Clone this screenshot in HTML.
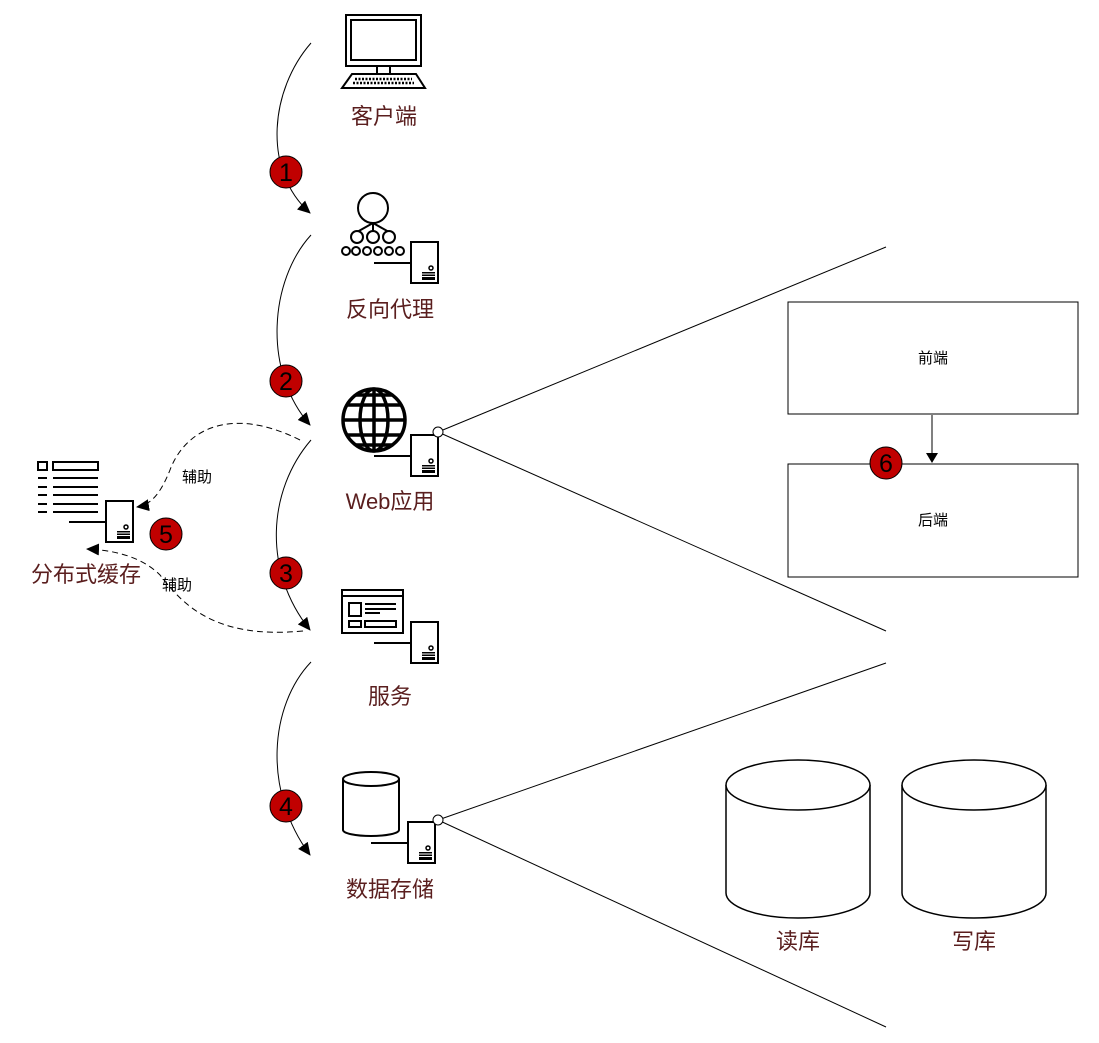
<!DOCTYPE html>
<html><head><meta charset="utf-8"><style>
body{margin:0;background:#fff;}
svg{display:block;}
.lb{font-family:"Liberation Sans","Noto Sans CJK SC",sans-serif;font-size:22px;fill:#5a1e1e;text-anchor:middle;}
.sm{font-family:"Liberation Sans","Noto Sans CJK SC",sans-serif;font-size:15px;fill:#000;text-anchor:middle;}
.bd{font-family:"Liberation Sans",sans-serif;font-size:25px;fill:#000;text-anchor:middle;}
</style></head><body>
<svg width="1099" height="1043" viewBox="0 0 1099 1043" xmlns="http://www.w3.org/2000/svg">
<defs>
<marker id="ar" markerWidth="14" markerHeight="14" refX="12" refY="6" orient="auto" markerUnits="userSpaceOnUse"><path d="M0,0 L13,6 L0,12 z" fill="#000"/></marker>
<g id="srv"><line x1="-37" y1="21" x2="0" y2="21" stroke="#000" stroke-width="2"/><rect x="0" y="0" width="27" height="41" fill="#fff" stroke="#000" stroke-width="2"/><circle cx="20" cy="26" r="2" fill="none" stroke="#000" stroke-width="1.5"/><rect x="11" y="30" width="13" height="8" fill="#000"/><line x1="11" y1="32" x2="24" y2="32" stroke="#fff"/><line x1="11" y1="34.5" x2="24" y2="34.5" stroke="#fff"/></g>
</defs>
<g fill="none" stroke="#000" stroke-width="1">
<path d="M311,43 C270,90 262,170 310,213" marker-end="url(#ar)"/>
<path d="M311,235 C270,280 262,370 310,425" marker-end="url(#ar)"/>
<path d="M311,440 C268,490 262,570 310,630" marker-end="url(#ar)"/>
<path d="M311,662 C270,705 262,790 310,855" marker-end="url(#ar)"/>
<path d="M300,440 C230,405 185,430 170,470 C160,495 150,505 137,507" stroke-dasharray="6,4" marker-end="url(#ar)"/>
<path d="M303,631 C210,640 180,600 160,575 C140,555 110,550 87,549" stroke-dasharray="6,4" marker-end="url(#ar)"/>
<line x1="438" y1="432" x2="886" y2="247"/><line x1="438" y1="432" x2="886" y2="631"/>
<line x1="438" y1="820" x2="886" y2="663"/><line x1="438" y1="820" x2="886" y2="1027"/>
<line x1="932" y1="415" x2="932" y2="454"/>
</g>
<path d="M926,453 L938,453 L932,463 z" fill="#000"/>
<g fill="none" stroke="#000" stroke-width="2">
<rect x="346" y="15" width="75" height="51"/><rect x="351" y="20" width="65" height="40"/>
<rect x="377" y="66" width="13" height="8"/>
<path d="M352,74 L416,74 L425,88 L342,88 z"/>
<line x1="355" y1="79" x2="412" y2="79" stroke-dasharray="2,1.5" stroke-width="2.5"/><line x1="353" y1="83" x2="414" y2="83" stroke-dasharray="2,1.5" stroke-width="2.5"/>
</g>
<text class="lb" x="384" y="124">客户端</text>
<g fill="#fff" stroke="#000" stroke-width="2">
<circle cx="373" cy="208" r="15"/>
<path d="M373,223 L373,232 M373,223 L357,232 M373,223 L389,232" fill="none"/>
<circle cx="357" cy="237" r="6"/><circle cx="373" cy="237" r="6"/><circle cx="389" cy="237" r="6"/>
<circle cx="346" cy="251" r="4"/><circle cx="356" cy="251" r="4"/><circle cx="367" cy="251" r="4"/><circle cx="378" cy="251" r="4"/><circle cx="389" cy="251" r="4"/><circle cx="400" cy="251" r="4"/>
</g>
<use href="#srv" x="411" y="242"/>
<text class="lb" x="390" y="317">反向代理</text>
<g fill="none" stroke="#000" stroke-width="3.5">
<circle cx="374" cy="420" r="31"/>
<ellipse cx="374" cy="420" rx="14" ry="31"/>
<line x1="374" y1="389" x2="374" y2="451"/>
<line x1="343" y1="420" x2="405" y2="420"/>
<line x1="347" y1="405" x2="401" y2="405"/><line x1="347" y1="435" x2="401" y2="435"/>
<line x1="356" y1="395" x2="392" y2="395"/><line x1="356" y1="445" x2="392" y2="445"/>
</g>
<use href="#srv" x="411" y="435"/>
<circle cx="438" cy="432" r="5" fill="#fff" stroke="#000"/>
<text class="lb" x="390" y="509">Web应用</text>
<g fill="none" stroke="#000" stroke-width="2">
<rect x="342" y="590" width="61" height="43"/><line x1="342" y1="596" x2="403" y2="596"/>
<rect x="349" y="603" width="12" height="13"/><line x1="365" y1="604" x2="396" y2="604"/><line x1="365" y1="609" x2="396" y2="609"/><line x1="365" y1="613" x2="380" y2="613"/>
<rect x="349" y="621" width="12" height="6"/><rect x="365" y="621" width="31" height="6"/>
</g>
<use href="#srv" x="411" y="622"/>
<text class="lb" x="390" y="704">服务</text>
<g fill="#fff" stroke="#000" stroke-width="2">
<path d="M343,779 L343,830 A28,6 0 0 0 399,830 L399,779"/>
<ellipse cx="371" cy="779" rx="28" ry="7"/>
</g>
<use href="#srv" x="408" y="822"/>
<circle cx="438" cy="820" r="5" fill="#fff" stroke="#000"/>
<text class="lb" x="390" y="897">数据存储</text>
<g fill="none" stroke="#000" stroke-width="2">
<rect x="38" y="462" width="9" height="8"/><rect x="53" y="462" width="45" height="8"/>
<line x1="38" y1="478" x2="47" y2="478"/><line x1="53" y1="478" x2="98" y2="478"/>
<line x1="38" y1="487" x2="47" y2="487"/><line x1="53" y1="487" x2="98" y2="487"/>
<line x1="38" y1="495" x2="47" y2="495"/><line x1="53" y1="495" x2="98" y2="495"/>
<line x1="38" y1="504" x2="47" y2="504"/><line x1="53" y1="504" x2="98" y2="504"/>
<line x1="38" y1="512" x2="47" y2="512"/><line x1="53" y1="512" x2="98" y2="512"/>
</g>
<use href="#srv" x="106" y="501"/>
<text class="lb" x="86" y="582">分布式缓存</text>
<text class="sm" x="197" y="482">辅助</text>
<text class="sm" x="177" y="590">辅助</text>
<rect x="788" y="302" width="290" height="112" fill="#fff" stroke="#000"/>
<text class="sm" x="933" y="363">前端</text>
<rect x="788" y="464" width="290" height="113" fill="#fff" stroke="#000"/>
<text class="sm" x="933" y="525">后端</text>
<g fill="#fff" stroke="#000" stroke-width="1.5">
<path d="M726,785 L726,893 A72,25 0 0 0 870,893 L870,785"/><ellipse cx="798" cy="785" rx="72" ry="25"/>
<path d="M902,785 L902,893 A72,25 0 0 0 1046,893 L1046,785"/><ellipse cx="974" cy="785" rx="72" ry="25"/>
</g>
<text class="lb" x="798" y="949">读库</text>
<text class="lb" x="974" y="949">写库</text>
<g fill="#c00000" stroke="#000" stroke-width="1">
<circle cx="286" cy="172" r="16"/><circle cx="286" cy="381" r="16"/><circle cx="286" cy="573" r="16"/><circle cx="286" cy="806" r="16"/><circle cx="166" cy="534" r="16"/><circle cx="886" cy="463" r="16"/>
</g>
<text class="bd" x="286" y="181">1</text><text class="bd" x="286" y="390">2</text><text class="bd" x="286" y="582">3</text><text class="bd" x="286" y="815">4</text><text class="bd" x="166" y="543">5</text><text class="bd" x="886" y="472">6</text>
</svg>
</body></html>
